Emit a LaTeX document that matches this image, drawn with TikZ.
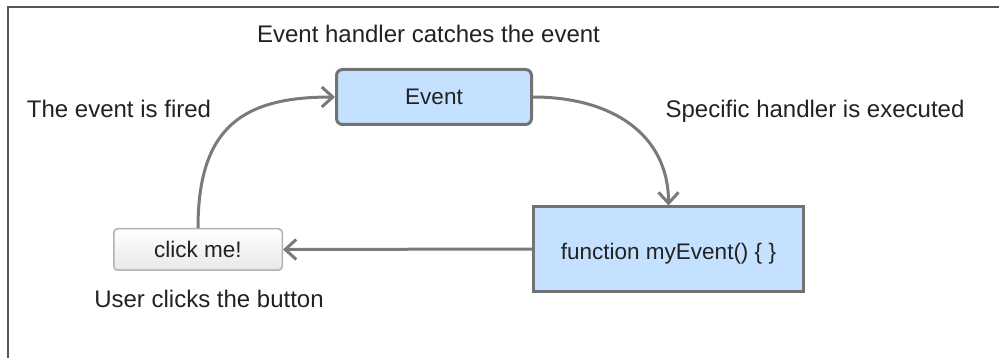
\documentclass[tikz,border=0pt]{standalone}
\usepackage{fontspec}
\setmainfont{Liberation Sans}
\usetikzlibrary{arrows.meta,shadings}
\definecolor{boxfill}{HTML}{C4E1FF}
\definecolor{boxline}{HTML}{737373}
\definecolor{conn}{HTML}{7A7A7A}
\definecolor{btnline}{HTML}{B8B0A6}
\definecolor{frame}{HTML}{555555}
\definecolor{txt}{HTML}{222222}
\tikzset{
  lbl/.style={anchor=base, text=txt, inner sep=0pt, font=\fontsize{24}{28}\selectfont},
  nodetext/.style={text=txt, inner sep=0pt, font=\fontsize{22.5}{26}\selectfont, text depth=0pt},
  eventbox/.style={nodetext, draw=boxline, line width=3pt, fill=boxfill, rounded corners=6pt,
     minimum width=195pt, minimum height=55pt, text height=16pt},
  funcbox/.style={nodetext, draw=boxline, line width=3pt, fill=boxfill,
     minimum width=270pt, minimum height=84pt, text height=20pt},
  btnbox/.style={nodetext, draw=btnline, line width=1.5pt, rounded corners=4pt,
     top color=white, bottom color=black!9, minimum width=168.5pt, minimum height=41.5pt, text height=16pt},
  conn/.style={draw=conn, line width=3pt, -{Straight Barb[length=11pt,width=20pt,line width=3pt]}}
}
\begin{document}
\begin{tikzpicture}[x=1pt,y=-1pt]
\useasboundingbox (0,0) rectangle (999,358);
\fill[white] (0,0) rectangle (999,358);
\draw[frame, line width=2pt] (999,7) -- (8,7) -- (8,358);

\node[eventbox] (event) at (434,97) {Event};
\node[funcbox] (func) at (668.5,249) {function myEvent() \{ \}};
\node[btnbox] (btn) at (198,249.5) {click me!};

\node[lbl] (l1) at (428.5,43) {Event handler catches the event};
\node[lbl] (l2) at (119,118) {The event is fired};
\node[lbl] (l3) at (815,118) {Specific handler is executed};
\node[lbl] (l4) at (209,307) {User clicks the button};

\draw[conn] (btn.north) .. controls +(0,-103) and +(-90,0) .. (event.west);
\draw[conn] (event.east) .. controls +(79,0) and +(0,-71) .. (func.north);
\draw[conn] (func.west) -- (btn.east);
\end{tikzpicture}
\end{document}
